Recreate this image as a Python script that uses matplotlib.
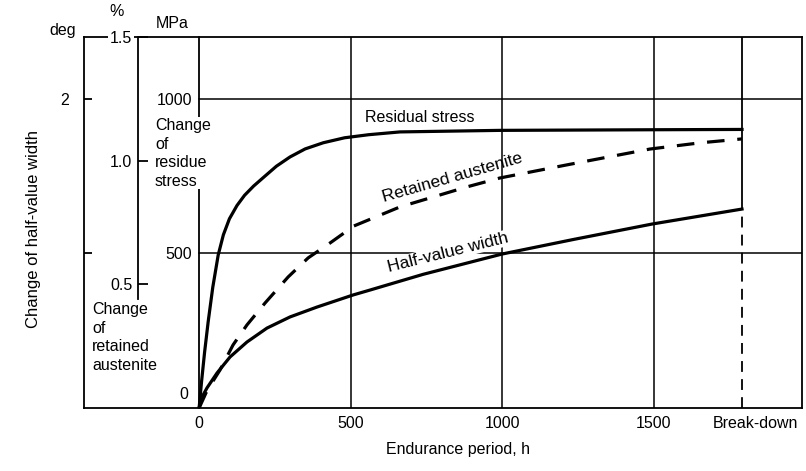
import matplotlib
matplotlib.use('Agg')
import matplotlib.pyplot as plt
from matplotlib.transforms import ScaledTranslation

plt.rcParams['font.family'] = ['Liberation Sans', 'DejaVu Sans']
plt.rcParams['font.size'] = 11.5

# ---------------- data ----------------
# Residual stress, MPa
rs_hours = [0, 8, 18, 30, 45, 63, 80, 100, 125, 150, 180, 215, 255, 300, 350, 410, 480,
            560, 663, 993, 1495, 1792]
rs_mpa = [0, 85, 180, 280, 390, 495, 560, 612, 655, 688, 718, 748, 782, 812, 838, 858, 874,
          884, 893, 898, 900, 901]

# Retained austenite, %
ra_hours = [0, 26, 69, 112, 158, 218, 294, 360, 432, 511, 663, 884, 993, 1214, 1488, 1653, 1792]
ra_pct = [0, 0.07, 0.154, 0.255, 0.336, 0.425, 0.530, 0.607, 0.667, 0.736, 0.813, 0.894,
          0.930, 0.983, 1.047, 1.072, 1.088]

# Half-value width, deg
hw_hours = [0, 5, 12, 26, 59, 102, 158, 224, 300, 389, 508, 564, 740, 1000, 1235, 1495, 1792]
hw_deg = [0, 0.045, 0.08, 0.13, 0.226, 0.330, 0.427, 0.517, 0.589, 0.653, 0.731, 0.763, 0.865,
          0.996, 1.09, 1.190, 1.287]

breakdown_hours = 1792
x_ticks = [0, 500, 1000, 1500, breakdown_hours]
x_ticklabels = ['0', '500', '1000', '1500', 'Break-down']
grid_hours = [500, 1000, 1500]

mpa_ticks = [500, 1000]
mpa_ticklabels = ['500', '1000']
pct_ticks = [0.5, 1.0, 1.5]
pct_ticklabels = ['0.5', '1.0', '1.5']
deg_ticks = [1, 2]
deg_ticklabels = ['', '2']

# ---------------- layout ----------------
W, H = 806, 471
fig = plt.figure(figsize=(W / 100, H / 100), dpi=100)
ax = fig.add_axes([84 / W, (H - 408) / H, 718 / W, 371 / H])
ax.set_xlim(-380, 1990)
ax.set_ylim(0, 1200)
ax2 = ax.twinx()
ax2.set_ylim(0, 1.5)
ax3 = ax.twinx()
ax3.set_ylim(0, 2.4)

LW_AX = 1.3
LW_GRID = 1.1
LW_CURVE = 2.3

# main axes (MPa) -------------------------------------------------
for s in ax.spines.values():
    s.set_linewidth(LW_AX)
ax.spines['left'].set_position(('data', 0))
ax.set_xticks(x_ticks)
ax.set_xticklabels(x_ticklabels)
ax.tick_params(axis='x', length=0, pad=6)
lbl = ax.get_xticklabels()[-1]
lbl.set_transform(lbl.get_transform() + ScaledTranslation(13 / 100, 0, fig.dpi_scale_trans))
ax.set_yticks(mpa_ticks)
ax.set_yticklabels(mpa_ticklabels)
ax.yaxis.set_ticks_position('left')
ax.tick_params(axis='y', length=0, pad=5)
ax.annotate('0', xy=(0, 0), xytext=(-8, 4), textcoords='offset points',
            ha='right', va='bottom')

x0, x1 = ax.get_xlim()
for v in mpa_ticks:
    ax.axhline(v, xmin=(0 - x0) / (x1 - x0), xmax=1, color='k', lw=LW_GRID)
for g in grid_hours:
    ax.axvline(g, color='k', lw=LW_GRID)

ax.set_xlabel('Endurance period, h')
ax.xaxis.set_label_coords((458 - 84) / 718, (408 - 442) / 371)

# % axis -----------------------------------------------------------
for k, s in ax2.spines.items():
    s.set_visible(k == 'left')
ax2.spines['left'].set_position(('data', -202))
ax2.spines['left'].set_linewidth(LW_AX)
ax2.spines['left'].set_bounds(0.44, 1.5)
ax2.yaxis.set_ticks_position('left')
ax2.yaxis.set_label_position('left')
ax2.set_yticks(pct_ticks)
ax2.set_yticklabels(pct_ticklabels)
ax2.tick_params(axis='y', direction='in', length=7, width=LW_AX, pad=4)
for t in ax2.get_yticklabels():
    if t.get_text() == '1.5':
        t.set_bbox(dict(facecolor='white', edgecolor='none', pad=1.5))

# deg axis ---------------------------------------------------------
for k, s in ax3.spines.items():
    s.set_visible(k == 'left')
ax3.spines['left'].set_linewidth(LW_AX)
ax3.yaxis.set_ticks_position('left')
ax3.yaxis.set_label_position('left')
ax3.set_yticks(deg_ticks)
ax3.set_yticklabels(deg_ticklabels)
ax3.tick_params(axis='y', direction='in', length=6, width=LW_AX, pad=11)
ax3.set_ylabel('Change of half-value width', fontsize=12)
ax3.yaxis.set_label_coords((41 - 84) / 718, (408 - 229) / 371)

# curves -----------------------------------------------------------
ax.plot(rs_hours, rs_mpa, color='k', lw=LW_CURVE, solid_joinstyle='round')
ax2.plot(ra_hours, ra_pct, color='k', lw=LW_CURVE, dashes=(5.5, 4), dash_capstyle='butt')
ax3.plot(hw_hours, hw_deg, color='k', lw=LW_CURVE, solid_joinstyle='round')

# break-down line: solid above the curves, dashed below
y_top = ax3.get_ylim()[1]
ax3.axvline(breakdown_hours, ymin=hw_deg[-1] / y_top, ymax=1, color='k', lw=LW_AX)
ax3.axvline(breakdown_hours, ymin=0, ymax=hw_deg[-1] / y_top, color='k', lw=LW_AX,
            dashes=(6, 4))

# annotations -------------------------------------------------------
ax.text(547, 941, 'Residual stress', ha='left', va='center')
ax.text(835, 744, 'Retained austenite', rotation=16, rotation_mode='anchor',
        ha='center', va='center', fontsize=12.5)
ax3.text(822, 503, 'Half-value width', transform=ax.transData, rotation=14,
         rotation_mode='anchor', ha='center', va='center', fontsize=12.5,
         bbox=dict(facecolor='white', edgecolor='none', pad=0.5))
ax3.text(-146, 938, 'Change\nof\nresidue\nstress', transform=ax.transData,
         ha='left', va='top', linespacing=1.3,
         bbox=dict(facecolor='white', edgecolor='none', pad=0.5))
ax3.text(-354, 343, 'Change\nof\nretained\naustenite', transform=ax.transData,
         ha='left', va='top', linespacing=1.3)

fig.text(117 / W, 1 - 12 / H, '%', ha='center', va='center')
fig.text(172 / W, 1 - 23 / H, 'MPa', ha='center', va='center')
fig.text(63 / W, 1 - 30 / H, 'deg', ha='center', va='center')

fig.savefig('out.png', dpi=100)
